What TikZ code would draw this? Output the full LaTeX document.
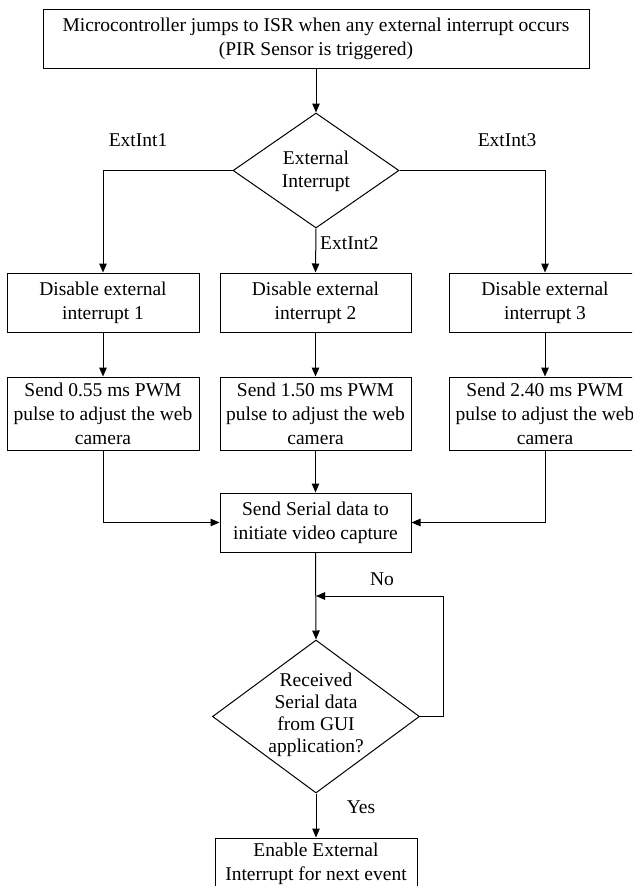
\documentclass[tikz,border=0pt]{standalone}
\usepackage{fontspec}
\setmainfont{Liberation Serif}
\usetikzlibrary{arrows.meta,shapes.geometric}

\tikzset{
  flow/.style={line width=1pt, draw=black},
  arr/.style={flow, -{Triangle[length=9pt,width=7.5pt]}},
  box/.style={rectangle, draw=black, line width=1pt, inner sep=0pt,
    align=center, font=\fontsize{19.5}{24}\selectfont},
  decision/.style={diamond, draw=black, line width=1pt, inner sep=0pt},
  dtext/.style={align=center, inner sep=0pt},
  lbl/.style={inner sep=0pt, font=\fontsize{19.5}{22}\selectfont},
}

\begin{document}
\begin{tikzpicture}[x=1pt,y=-1pt]
\useasboundingbox (0,0) rectangle (632,886);
\clip (0,0) rectangle (632,886);
\fill[white] (0,0) rectangle (632,886);

% entry into the interrupt service routine
\node[box, minimum width=546pt, minimum height=59pt] (isr) at (316,38.5)
  {\fontsize{19.5}{23}\selectfont Microcontroller jumps to ISR when any external interrupt occurs\\(PIR Sensor is triggered)};

% which interrupt fired
\node[decision, minimum width=166pt, minimum height=115pt] (which) at (316,170.5) {};
\node[dtext, font=\fontsize{19.5}{23}\selectfont] (whichtxt) at (316,171) {External\\Interrupt};

% three branches
\node[box, minimum width=192pt, minimum height=59pt] (dis1) at (103,302.5) {Disable external\\interrupt 1};
\node[box, minimum width=191pt, minimum height=59pt] (dis2) at (315.5,302.5) {Disable external\\interrupt 2};
\node[box, minimum width=192pt, minimum height=59pt] (dis3) at (545,302.5) {Disable external\\interrupt 3};

\node[box, minimum width=192pt, minimum height=73pt] (pwm1) at (103,413.5) {Send 0.55 ms PWM\\pulse to adjust the web\\camera};
\node[box, minimum width=191pt, minimum height=73pt] (pwm2) at (315.5,413.5) {Send 1.50 ms PWM\\pulse to adjust the web\\camera};
\node[box, minimum width=192pt, minimum height=73pt] (pwm3) at (545,413.5) {Send 2.40 ms PWM\\pulse to adjust the web\\camera};

% serial request to the GUI
\node[box, minimum width=191pt, minimum height=59pt] (serial) at (315.5,522.5) {Send Serial data to\\initiate video capture};

% wait for the reply
\node[decision, minimum width=207pt, minimum height=153pt] (reply) at (316,716.5) {};
\node[dtext, font=\fontsize{19.5}{22}\selectfont] (replytxt) at (316,715) {Received\\Serial data\\from GUI\\application?};

\node[box, minimum width=202pt, minimum height=52pt] (enable) at (316,864) {Enable External\\Interrupt for next event};

% branch labels
\node[lbl] (l1) at (138,140) {ExtInt1};
\node[lbl, anchor=west] (l2) at (320,243) {ExtInt2};
\node[lbl] (l3) at (507,140) {ExtInt3};
\node[lbl] (lno) at (382,579) {No};
\node[lbl] (lyes) at (361,807) {Yes};

% helper points
\coordinate (join) at (316,596);
\coordinate (loopR) at (443,596);

% connectors
\draw[arr] (isr.south) -- (which.north);
\draw[arr] (which.west) -| (dis1.north);
\draw[arr] (which.east) -| (dis3.north);
\draw[arr] (which.south) -- (dis2.north);
\draw[arr] (dis1) -- (pwm1);
\draw[arr] (dis2) -- (pwm2);
\draw[arr] (dis3) -- (pwm3);
\draw[arr] (pwm1.south) |- (serial.west);
\draw[arr] (pwm2.south) -- (serial.north);
\draw[arr] (pwm3.south) |- (serial.east);
\draw[arr] (serial.south) -- (reply.north);
\draw[arr] (reply.east) -| (loopR) -- (join);
\draw[arr] (reply.south) -- (enable.north);
\end{tikzpicture}
\end{document}
